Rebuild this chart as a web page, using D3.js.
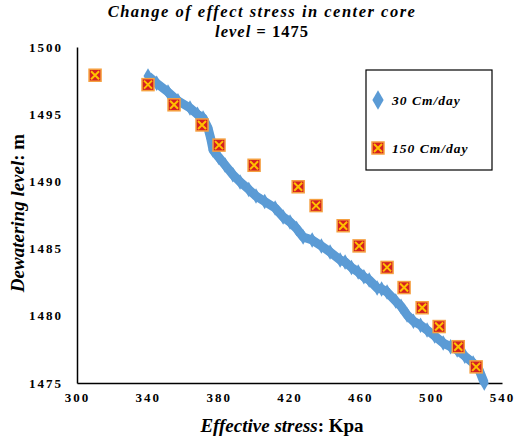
<!DOCTYPE html>
<html><head><meta charset="utf-8">
<script src="https://cdn.jsdelivr.net/npm/d3@7"></script>
<style>body{margin:0;background:#fff}text{font-family:"Liberation Serif","Times New Roman",serif}</style>
</head><body><svg id="c" width="520" height="445"></svg>
<script>
const xTicks=[300,340,380,420,460,500,540];
const yTicks=[1475,1480,1485,1490,1495,1500];
const blueX=[340.1,345,351.4,357,363.8,368,371.2,374.0,375.5,376.8,380,383.6,388,392.1,397,401.1,406,411.9,416.4,420.3,424,427.7,432.8,438,442.9,448.6,451.4,455,458.8,462,465,469.5,472,475.1,480,483,486.4,490,494,497.7,502,506.8,511,514.7,519,523.7,527,530];
const blueY=[1497.84,1497.3,1496.65,1496.0,1495.46,1495.0,1494.72,1493.97,1493.2,1492.34,1491.8,1491.22,1490.5,1489.96,1489.4,1488.91,1488.5,1488.02,1487.35,1486.98,1486.5,1485.86,1485.64,1485.2,1484.75,1484.15,1484.0,1483.6,1483.26,1482.9,1482.66,1482.07,1482.0,1481.77,1481.1,1480.7,1480.06,1479.6,1479.3,1478.94,1478.5,1477.98,1477.7,1477.46,1477.0,1476.49,1476.0,1475.0];
const redX=[310.2,340.1,354.8,370.6,380.2,400,424.9,435,450.3,459.3,475.1,484.7,494.9,504.5,515.3,525.4];
const redY=[1497.9,1497.2,1495.7,1494.2,1492.7,1491.2,1489.6,1488.2,1486.7,1485.2,1483.6,1482.1,1480.6,1479.2,1477.7,1476.2];
const seriesNames=["30 Cm/day","150 Cm/day"];

const svg=d3.select("#c");
const x=d3.scaleLinear().domain([300,540]).range([77,502]);
const y=d3.scaleLinear().domain([1475,1500]).range([383,47]);

svg.append("g").attr("transform","translate(0,383)")
 .call(d3.axisBottom(x).tickValues(xTicks).tickFormat(d3.format("d")).tickSize(0).tickPadding(10))
 .call(g=>{g.select(".domain").attr("stroke","#000").attr("stroke-width",1.5);
  g.selectAll("text").attr("font-size",13).attr("font-weight","bold").attr("letter-spacing","2px").attr("font-family","Liberation Serif");});
svg.append("g").attr("transform","translate(77,0)")
 .call(d3.axisLeft(y).tickValues(yTicks).tickFormat(d3.format("d")).tickSize(0).tickPadding(14))
 .call(g=>{g.select(".domain").attr("stroke","#000").attr("stroke-width",1.5);
  g.selectAll("text").attr("font-size",13).attr("font-weight","bold").attr("letter-spacing","2px").attr("font-family","Liberation Serif");});

const blue=blueX.map((v,i)=>[v,blueY[i]]);
svg.append("path").datum(blue).attr("fill","none").attr("stroke","#5b9bd5").attr("stroke-width",9).attr("stroke-linejoin","round")
 .attr("d",d3.line().x(d=>x(d[0])).y(d=>y(d[1])));
const dia=d3.symbol().type(d3.symbolDiamond).size(70);
svg.append("g").selectAll("path").data(blue).join("path").attr("d",dia).attr("fill","#5b9bd5")
 .attr("transform",d=>`translate(${x(d[0])},${y(d[1])})`);

function redMark(g,cx,cy){
 g.append("rect").attr("x",cx-6).attr("y",cy-6).attr("width",12).attr("height",12).attr("fill","#d42020").attr("stroke","#f5a040").attr("stroke-width",1.5);
 g.append("path").attr("d",`M${cx-4},${cy-4}L${cx+4},${cy+4}M${cx+4},${cy-4}L${cx-4},${cy+4}`).attr("stroke","#ffc000").attr("stroke-width",2);
}
const rg=svg.append("g");
redX.forEach((v,i)=>redMark(rg,x(v),y(redY[i])));

// legend
svg.append("rect").attr("x",366).attr("y",70).attr("width",126).attr("height",100).attr("fill","#fff").attr("stroke","#000").attr("stroke-width",1.2);
svg.append("path").attr("d",d3.symbol().type(d3.symbolDiamond).size(110)).attr("fill","#5b9bd5").attr("transform","translate(378,100)");
redMark(svg,378,148);
svg.append("text").attr("x",392).attr("y",105).attr("font-size",13.5).attr("font-weight","bold").attr("font-style","italic").attr("letter-spacing","1px").text(seriesNames[0]);
svg.append("text").attr("x",392).attr("y",153).attr("font-size",13.5).attr("font-weight","bold").attr("font-style","italic").attr("letter-spacing","1px").text(seriesNames[1]);

// titles
svg.append("text").attr("x",262).attr("y",17).attr("text-anchor","middle").attr("font-size",16.5).attr("font-weight","bold").attr("font-style","italic").attr("letter-spacing","1.5px").text("Change of effect stress in center core");
const t2=svg.append("text").attr("x",262).attr("y",37).attr("text-anchor","middle").attr("font-size",16.5).attr("font-weight","bold").attr("letter-spacing","1px");
t2.append("tspan").attr("font-style","italic").text("level = ");
t2.append("tspan").text("1475");
const xt=svg.append("text").attr("x",282).attr("y",432).attr("text-anchor","middle").attr("font-size",19).attr("font-weight","bold");
xt.append("tspan").attr("font-style","italic").text("Effective stress");
xt.append("tspan").text(": Kpa");
const yt=svg.append("text").attr("transform","translate(24,213) rotate(-90)").attr("text-anchor","middle").attr("font-size",19).attr("font-weight","bold");
yt.append("tspan").attr("font-style","italic").text("Dewatering level");
yt.append("tspan").text(": m");
</script></body></html>
